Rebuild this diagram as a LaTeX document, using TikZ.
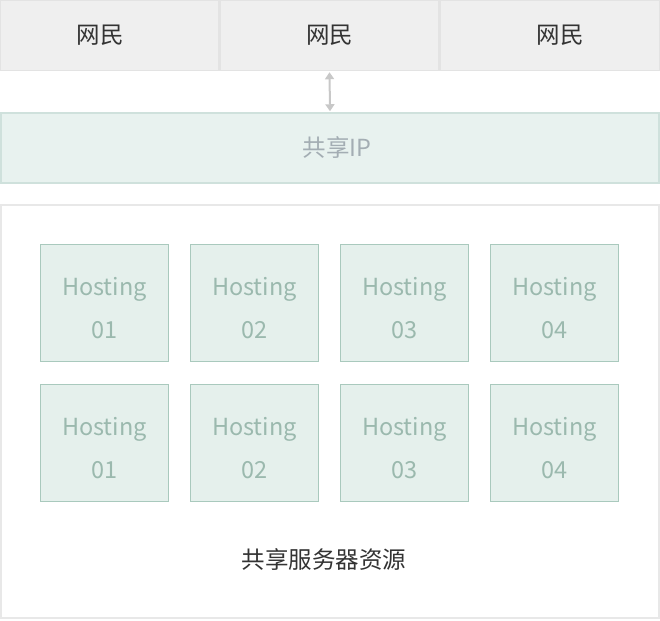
\documentclass[tikz,border=0pt]{standalone}
\usepackage{fontspec}
\setmainfont{Noto Sans CJK SC}
\usepackage{xcolor}
\definecolor{userbg}{HTML}{EFEFEF}
\definecolor{userline}{HTML}{E3E3E3}
\definecolor{ipbg}{HTML}{E8F2EF}
\definecolor{ipline}{HTML}{CFE1DC}
\definecolor{iptext}{HTML}{A3ADB3}
\definecolor{hostbg}{HTML}{E5F0EC}
\definecolor{hostline}{HTML}{A9C9BD}
\definecolor{hosttext}{HTML}{9BB9AE}
\definecolor{poolline}{HTML}{E8E8E8}
\definecolor{link}{HTML}{C8C8C8}
\usetikzlibrary{arrows.meta}

\begin{document}
\begin{tikzpicture}[x=1pt, y=-1pt,
  user/.style={draw=userline, line width=1.5pt, fill=userbg, minimum width=219pt, minimum height=70pt, text=black!80, font=\fontsize{23.5}{26}\selectfont, inner sep=0pt},
  host/.style={draw=hostline, line width=1.5pt, fill=hostbg, minimum width=128pt, minimum height=117pt, inner sep=0pt},
  hostname/.style={text=hosttext, font=\fontsize{23.5}{26}\selectfont, align=center, inner sep=0pt, yshift=-5pt}]
\useasboundingbox (0,0) rectangle (660,620);
% users
\node [user] (u1) at (109.5,35.5) {\hspace*{-19pt}网民};
\node [user] (u2) at (329.5,35.5) {网民};
\node [user, minimum width=220pt] (u3) at (550,35.5) {\hspace*{20pt}网民};
% shared ip
\node [draw=ipline, line width=1.5pt, fill=ipbg, minimum width=658pt, minimum height=70pt, text=iptext, font=\fontsize{23.5}{26}\selectfont, inner sep=0pt] (ip) at (330,148) {\hspace*{14pt}共享IP};
\draw [{Triangle[width=9pt,length=7pt]}-{Triangle[width=9pt,length=7pt]}, line width=2pt, link, shorten <=1pt, shorten >=1pt] (u2.south) -- (ip.north);
% server pool
\draw [poolline, line width=1.5pt] (1,205) rectangle (659,618);
\foreach \col/\x in {1/104.5, 2/254.5, 3/404.5, 4/554.5} {
  \node [host, label={[hostname]center:Hosting\\[17pt]0\col}] (h1\col) at (\x,303) {};
  \node [host, label={[hostname]center:Hosting\\[17pt]0\col}] (h2\col) at (\x,443) {};
}
\node [text=black!80, font=\fontsize{23.5}{26}\selectfont] (pool) at (324,560) {共享服务器资源};
\end{tikzpicture}
\end{document}
